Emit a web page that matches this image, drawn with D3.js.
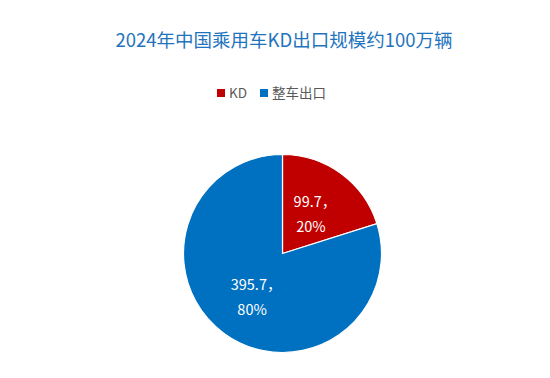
<!DOCTYPE html>
<html>
<head>
<meta charset="utf-8">
<script src="https://cdn.jsdelivr.net/npm/d3@7"></script>
<style>
  body { margin: 0; background: #fff; }
  text { font-family: "Noto Sans CJK SC", "Noto Sans", sans-serif; }
</style>
</head>
<body>
<div id="chart"></div>
<script>
// dati (10k veicoli)
const categories = ["KD", "整车出口"];
const values = [99.7, 395.7];
const percents = ["20%", "80%"];
const colors = ["#c00000", "#0070c0"];
const title = "2024年中国乘用车KD出口规模约100万辆";

const width = 550, height = 378;
const cx = 282.5, cy = 253.5, radius = 99;

const svg = d3.select("#chart")
  .append("svg")
  .attr("width", width)
  .attr("height", height);

svg.append("text")
  .attr("x", 284)
  .attr("y", 47)
  .attr("text-anchor", "middle")
  .style("font-size", "18.5px")
  .style("fill", "#1f74bd")
  .text(title);

// legenda
const legendX = [217, 260];
const legend = svg.selectAll(".legend")
  .data(categories)
  .enter().append("g")
  .attr("transform", (d, i) => "translate(" + legendX[i] + ",93)");
legend.append("rect")
  .attr("x", 0).attr("y", -4)
  .attr("width", 8).attr("height", 8)
  .attr("fill", (d, i) => colors[i]);
legend.append("text")
  .attr("x", 12).attr("y", 0)
  .attr("dy", "0.35em")
  .style("font-size", "13.5px")
  .style("fill", "#595959")
  .text(d => d);

const pie = d3.pie().sort(null).value(d => d);
const arcs = pie(values);
const arc = d3.arc().innerRadius(0).outerRadius(radius);
const labelArc = d3.arc().innerRadius(radius * 0.52).outerRadius(radius * 0.52);

const g = svg.append("g")
  .attr("transform", "translate(" + cx + "," + cy + ")");

g.selectAll("path")
  .data(arcs)
  .enter().append("path")
  .attr("d", arc)
  .attr("fill", (d, i) => colors[i])
  .attr("stroke", "#fff")
  .attr("stroke-width", 1.2);

const labels = g.selectAll(".lbl")
  .data(arcs)
  .enter().append("text")
  .attr("class", "lbl")
  .attr("transform", (d, i) => {
    const c = labelArc.centroid(d);
    return "translate(" + (c[0] + (i ? 4 : 2)) + "," + c[1] + ")";
  })
  .attr("text-anchor", "middle")
  .style("font-size", "14.5px")
  .style("fill", "#fff");
labels.append("tspan")
  .attr("x", 0).attr("dy", "-0.35em")
  .text(d => d.data + "，");
labels.append("tspan")
  .attr("x", -4).attr("dy", "1.75em")
  .text((d, i) => percents[i]);
</script>
</body>
</html>
